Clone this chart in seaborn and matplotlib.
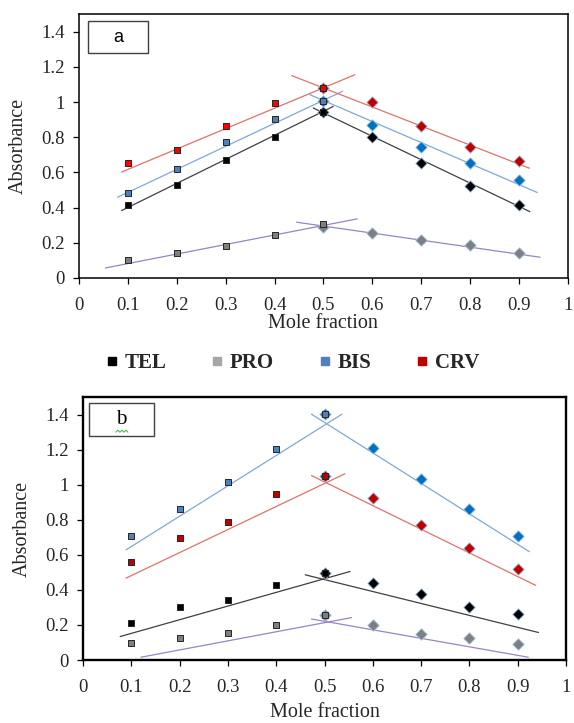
import numpy as np
import pandas as pd
import matplotlib
matplotlib.use("Agg")
import matplotlib.pyplot as plt
from matplotlib.lines import Line2D
from matplotlib.patches import Rectangle
import seaborn as sns

# mole fractions
mole_up = [0.1, 0.2, 0.3, 0.4, 0.5]
mole_down = [0.5, 0.6, 0.7, 0.8, 0.9]
series = ["TEL", "PRO", "BIS", "CRV"]

# panel a absorbances
a_tel_up = [0.412, 0.526, 0.668, 0.804, 0.944]
a_tel_down = [0.944, 0.804, 0.656, 0.520, 0.412]
a_pro_up = [0.102, 0.144, 0.180, 0.245, 0.307]
a_pro_down = [0.290, 0.254, 0.216, 0.185, 0.143]
a_bis_up = [0.482, 0.617, 0.770, 0.905, 1.005]
a_bis_down = [1.005, 0.871, 0.747, 0.653, 0.556]
a_crv_up = [0.656, 0.728, 0.861, 0.994, 1.080]
a_crv_down = [1.080, 0.998, 0.865, 0.747, 0.664]

# panel b absorbances
b_tel_up = [0.213, 0.301, 0.342, 0.428, 0.497]
b_tel_down = [0.497, 0.438, 0.376, 0.301, 0.261]
b_pro_up = [0.096, 0.123, 0.154, 0.198, 0.257]
b_pro_down = [0.257, 0.202, 0.146, 0.123, 0.092]
b_bis_up = [0.705, 0.864, 1.018, 1.206, 1.402]
b_bis_down = [1.402, 1.210, 1.031, 0.864, 0.707]
b_crv_up = [0.557, 0.695, 0.787, 0.945, 1.052]
b_crv_down = [1.052, 0.926, 0.772, 0.638, 0.518]

# trend lines: (x0, y0, x1, y1), rising then falling
a_tel_fit = [(0.087, 0.383, 0.520, 0.975), (0.479, 0.966, 0.922, 0.377)]
a_pro_fit = [(0.054, 0.057, 0.569, 0.336), (0.445, 0.317, 0.943, 0.118)]
a_bis_fit = [(0.079, 0.459, 0.539, 1.061), (0.472, 1.042, 0.937, 0.486)]
a_crv_fit = [(0.087, 0.602, 0.564, 1.155), (0.435, 1.150, 0.921, 0.624)]
b_tel_fit = [(0.077, 0.134, 0.553, 0.505), (0.460, 0.486, 0.943, 0.157)]
b_pro_fit = [(0.120, 0.016, 0.556, 0.242), (0.473, 0.234, 0.922, 0.016)]
b_bis_fit = [(0.089, 0.628, 0.536, 1.402), (0.473, 1.402, 0.924, 0.618)]
b_crv_fit = [(0.089, 0.467, 0.542, 1.062), (0.473, 1.052, 0.937, 0.426)]

x_ticks = [0, 0.1, 0.2, 0.3, 0.4, 0.5, 0.6, 0.7, 0.8, 0.9, 1]
x_tick_labels = ["0", "0.1", "0.2", "0.3", "0.4", "0.5", "0.6", "0.7", "0.8", "0.9", "1"]
y_ticks = [0, 0.2, 0.4, 0.6, 0.8, 1.0, 1.2, 1.4]
y_tick_labels = ["0", "0.2", "0.4", "0.6", "0.8", "1", "1.2", "1.4"]

# styles
line_colors = {"TEL": "#404040", "PRO": "#9a84c2", "BIS": "#7ea7dc", "CRV": "#e0716d"}
sq_colors_a = {"TEL": "#000000", "PRO": "#7f7f7f", "BIS": "#4f81bd", "CRV": "#ff0000"}
sq_colors_b = {"TEL": "#000000", "PRO": "#7f7f7f", "BIS": "#4f81bd", "CRV": "#c00000"}
dia_colors = {"TEL": "#000000", "PRO": "#7f7f7f", "BIS": "#0070c0", "CRV": "#c00000"}
legend_colors = {"TEL": "#000000", "PRO": "#a6a6a6", "BIS": "#4f81bd", "CRV": "#c00000"}

sns.set_theme(style="white")
plt.rcParams["font.family"] = ["Liberation Serif", "DejaVu Serif"]

SERIF = ["Liberation Serif", "DejaVu Serif"]


def build_points(up_lists, down_lists):
    rows = []
    for name, up, down in zip(series, up_lists, down_lists):
        for x, y in zip(mole_up, up):
            rows.append({"series": name, "branch": "up", "mole": x, "abs": y})
        for x, y in zip(mole_down, down):
            rows.append({"series": name, "branch": "down", "mole": x, "abs": y})
    return pd.DataFrame(rows)


def build_fits(fit_lists):
    rows = []
    for name, fits in zip(series, fit_lists):
        for k, (x0, y0, x1, y1) in enumerate(fits):
            rows.append({"series": name, "seg": k, "mole": x0, "abs": y0})
            rows.append({"series": name, "seg": k, "mole": x1, "abs": y1})
    return pd.DataFrame(rows)


def draw_panel(ax, pts, fits, sq_colors, frame_lw, tag, tag_box, tag_font, tag_size):
    for name in series:
        for seg in (0, 1):
            d = fits[(fits.series == name) & (fits.seg == seg)]
            sns.lineplot(data=d, x="mole", y="abs", ax=ax, color=line_colors[name],
                         linewidth=0.9, sort=False, estimator=None, legend=False, zorder=2)
    for name in series:
        d = pts[(pts.series == name) & (pts.branch == "down")]
        sns.scatterplot(data=d, x="mole", y="abs", ax=ax, marker="D", s=34,
                        color=dia_colors[name], edgecolor="#9dc3e6", linewidth=0.6,
                        legend=False, zorder=3)
        d = pts[(pts.series == name) & (pts.branch == "up")]
        sns.scatterplot(data=d, x="mole", y="abs", ax=ax, marker="s", s=24,
                        color=sq_colors[name], edgecolor="#262626", linewidth=0.7,
                        legend=False, zorder=4)

    ax.set_xlim(0, 1)
    ax.set_ylim(0, 1.5)
    ax.set_xticks(x_ticks)
    ax.set_xticklabels(x_tick_labels)
    ax.set_yticks(y_ticks)
    ax.set_yticklabels(y_tick_labels)
    ax.tick_params(axis="both", which="both", direction="out", length=4, width=0.9,
                   color="black", labelsize=13.5, bottom=True, left=True,
                   top=False, right=False)
    ax.tick_params(axis="x", pad=10)
    ax.tick_params(axis="y", pad=6)
    for lab in ax.get_xticklabels() + ax.get_yticklabels():
        lab.set_family(SERIF)
    for sp in ax.spines.values():
        sp.set_visible(True)
        sp.set_color("black")
        sp.set_linewidth(frame_lw)

    ax.set_xlabel("Mole fraction", fontsize=14.5, family=SERIF)
    ax.set_ylabel("Absorbance", fontsize=14.5, family=SERIF)

    bx, by, bw, bh = tag_box
    ax.add_patch(Rectangle((bx, by), bw, bh, transform=ax.transAxes, fill=False,
                           edgecolor="#404040", linewidth=1.0, zorder=5))
    ax.text(bx + bw / 2, by + bh / 2, tag, transform=ax.transAxes, ha="center",
            va="center", fontsize=tag_size, family=tag_font, color="black", zorder=6)


fig = plt.figure(figsize=(5.74, 7.23), dpi=100)
ax_a = fig.add_axes([0.1376, 0.6155, 0.8519, 0.3651])
ax_b = fig.add_axes([0.1446, 0.0871, 0.8415, 0.3638])

pts_a = build_points([a_tel_up, a_pro_up, a_bis_up, a_crv_up],
                     [a_tel_down, a_pro_down, a_bis_down, a_crv_down])
fits_a = build_fits([a_tel_fit, a_pro_fit, a_bis_fit, a_crv_fit])
pts_b = build_points([b_tel_up, b_pro_up, b_bis_up, b_crv_up],
                     [b_tel_down, b_pro_down, b_bis_down, b_crv_down])
fits_b = build_fits([b_tel_fit, b_pro_fit, b_bis_fit, b_crv_fit])

draw_panel(ax_a, pts_a, fits_a, sq_colors_a, 1.1, "a",
           (0.018, 0.852, 0.123, 0.121), ["Liberation Sans", "DejaVu Sans"], 13)
draw_panel(ax_b, pts_b, fits_b, sq_colors_b, 1.7, "b",
           (0.012, 0.852, 0.135, 0.125), SERIF, 15)

# spell-check squiggle under the "b" (decoration, drawn as a little zigzag)
zig_x = np.linspace(0.068, 0.093, 7)
zig_y = np.where(np.arange(7) % 2 == 0, 0.866, 0.874)
ax_b.plot(zig_x, zig_y, transform=ax_b.transAxes, color="#3cb043", linewidth=0.7, zorder=6)

ax_a.xaxis.set_label_coords(0.498, -0.172)
ax_a.xaxis.label.set_va("center")
ax_a.yaxis.set_label_coords(-0.125, 0.5)
ax_a.yaxis.label.set_va("center")
ax_b.xaxis.set_label_coords(0.50, -0.198)
ax_b.xaxis.label.set_va("center")
ax_b.yaxis.set_label_coords(-0.126, 0.5)
ax_b.yaxis.label.set_va("center")

handles = [Line2D([], [], marker="s", linestyle="", markersize=6,
                  markerfacecolor=legend_colors[n], markeredgecolor=legend_colors[n])
           for n in series]
fig.legend(handles, series, loc="center", bbox_to_anchor=(0.51, 0.498), ncol=4,
           frameon=False, handlelength=0.5, handletextpad=0.35, columnspacing=2.2,
           prop={"family": SERIF, "weight": "bold", "size": 15})

fig.savefig("out.png", dpi=100)
plt.close(fig)
